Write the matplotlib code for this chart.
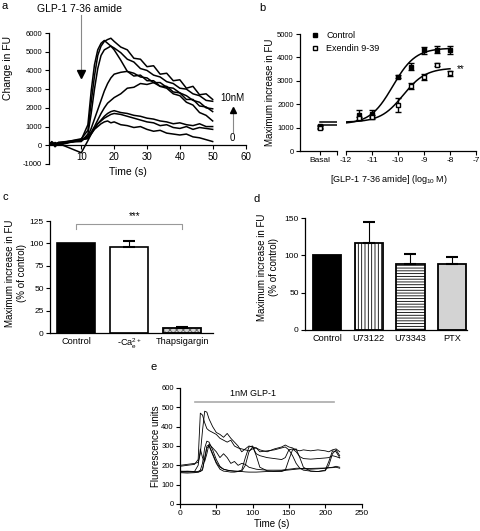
import numpy as np
import matplotlib.pyplot as plt
from matplotlib.lines import Line2D

plt.rcParams['font.family'] = ['Liberation Sans', 'DejaVu Sans']
plt.rcParams['mathtext.fontset'] = 'custom'
plt.rcParams['mathtext.rm'] = 'Liberation Sans'
plt.rcParams['mathtext.it'] = 'Liberation Sans:italic'
plt.rcParams['hatch.linewidth'] = 0.6

W, H = 480, 531

# ---- panel a: calcium traces (change in FU) ----
a_time = [0, 1, 2, 3, 10, 12, 13, 14, 15, 16, 17, 18, 19, 20, 22, 24, 26, 28,
          30, 32, 34, 36, 38, 40, 42, 44, 46, 48, 50]
a_traces = [
    [80, 150, -80, 100, 350, 800, 2300, 3700, 4800, 5300, 5550, 5650, 5720, 5550, 5250, 5100, 4650, 4600,
     4200, 4250, 3800, 3850, 3450, 3500, 3050, 3150, 2700, 2750, 2450],
    [150, 50, 100, 0, 300, 1100, 2900, 4300, 5100, 5450, 5600, 5450, 5300, 5200, 4950, 4600, 4450, 4100,
     4000, 3750, 3650, 3400, 3300, 3050, 3000, 2750, 2650, 2400, 2350],
    [0, 200, 50, 150, 200, 600, 1700, 3000, 4100, 4800, 5100, 5200, 5300, 5100, 4550, 3950, 3850, 3650,
     3600, 3350, 3350, 3100, 3050, 2800, 2650, 2400, 2300, 2000, 1950],
    [100, 0, 150, 50, 300, 500, 900, 1400, 1900, 2400, 2900, 3300, 3600, 3800, 3900, 3950, 3700, 3750,
     3450, 3450, 3150, 3150, 2850, 2800, 2450, 2450, 2100, 2050, 1800],
    [50, 100, 0, 100, 250, 450, 700, 1000, 1350, 1700, 2000, 2250, 2400, 2550, 2750, 3050, 3100, 3300,
     3250, 3350, 3150, 3050, 2750, 2650, 2300, 2150, 1750, 1600, 1300],
    [100, 150, 0, 50, 300, 400, 650, 900, 1150, 1350, 1550, 1700, 1800, 1850, 1750, 1700, 1600, 1550,
     1450, 1400, 1300, 1250, 1150, 1200, 1100, 1050, 1150, 1000, 1000],
    [150, 0, 50, 100, -400, 250, 600, 900, 1150, 1300, 1450, 1550, 1650, 1700, 1650, 1550, 1450, 1350,
     1250, 1200, 1050, 1100, 950, 900, 1000, 850, 950, 900, 850],
    [0, 100, 50, 150, 300, 350, 600, 850, 1000, 1150, 1250, 1300, 1200, 1250, 1100, 1050, 950, 1000,
     850, 750, 800, 650, 600, 550, 600, 450, 400, 300, 200],
]

# ---- panel b: concentration response ----
b_conc = [-11.5, -11, -10, -9.5, -9, -8.5, -8]
b_ctrl = [1530, 1600, 3180, 3610, 4300, 4330, 4300]
b_ctrl_err = [215, 150, 70, 130, 150, 150, 170]
b_exen = [1390, 1460, 1960, 2780, 3150, 3680, 3320]
b_exen_err = [80, 80, 300, 130, 120, 60, 120]
b_basal = [1060, 1000]
b_basal_err = [60, 60]
b_basal_lines = [1230, 1110]
b_fit_ctrl = (1150, 4400, -10.2, 1.0)   # bottom, top, logEC50, hill
b_fit_exen = (1230, 3550, -9.8, 1.0)

# ---- panel c ----
c_labels = ['Control', '-Ca$^{2+}_{\\mathrm{e}}$', 'Thapsigargin']
c_values = [100, 96, 6]
c_err = [0, 6.3, 1]

# ---- panel d ----
d_labels = ['Control', 'U73122', 'U73343', 'PTX']
d_values = [101, 117, 88, 88]
d_err = [0, 27, 13.5, 9.5]

# ---- panel e: single cell traces ----
e_time = [0, 10, 20, 25, 28, 31, 34, 37, 40, 45, 50, 55, 60, 65, 70, 75, 80, 85, 90, 95,
          100, 105, 110, 120, 130, 140, 145, 150, 155, 160, 165, 170, 180, 190, 200, 205, 210, 215, 220]
e_traces = [
    [195, 200, 205, 230, 470, 460, 420, 390, 380, 370, 360, 340, 330, 320, 330, 300, 290, 285, 280, 275,
     285, 290, 280, 270, 285, 295, 305, 295, 290, 280, 275, 280, 275, 280, 275, 270, 280, 285, 270],
    [200, 205, 210, 215, 260, 380, 480, 475, 440, 400, 370, 360, 345, 365, 340, 320, 300, 270, 285, 300,
     295, 260, 250, 240, 235, 230, 240, 280, 285, 270, 245, 235, 232, 235, 238, 240, 250, 245, 238],
    [170, 168, 165, 168, 175, 210, 290, 325, 320, 280, 230, 195, 180, 175, 172, 170, 170, 175, 240, 295,
     300, 250, 190, 172, 168, 168, 175, 230, 280, 285, 240, 190, 170, 168, 175, 220, 275, 270, 240],
    [165, 165, 168, 200, 285, 240, 220, 260, 310, 290, 270, 240, 260, 240, 210, 220, 200, 210, 205, 190,
     185, 180, 178, 175, 175, 175, 178, 180, 182, 185, 185, 182, 180, 182, 185, 188, 190, 195, 190],
    [168, 170, 168, 165, 170, 180, 230, 290, 300, 255, 210, 180, 170, 168, 165, 165, 168, 170, 200, 270,
     295, 290, 270, 275, 280, 290, 295, 280, 250, 210, 185, 175, 170, 168, 172, 200, 260, 280, 250],
    [162, 160, 162, 165, 168, 175, 240, 300, 305, 260, 215, 190, 180, 175, 172, 170, 168, 168, 166, 165,
     165, 165, 166, 168, 170, 172, 174, 176, 178, 180, 182, 183, 184, 185, 186, 187, 188, 190, 185],
]
e_stim = [20, 212]


fig = plt.figure(figsize=(W / 100, H / 100), dpi=100)


def add_ax(l, t, r, b):
    return fig.add_axes([l / W, 1 - b / H, (r - l) / W, (b - t) / H])


def ftext(px, py, s, **kw):
    fig.text(px / W, 1 - py / H, s, **kw)


def style(ax, xsize=6, ysize=5.5):
    for s in ['top', 'right']:
        ax.spines[s].set_visible(False)
    for s in ax.spines.values():
        s.set_linewidth(0.9)
    ax.tick_params(direction='out', length=3, width=0.8, pad=1.5)
    ax.tick_params(axis='x', labelsize=xsize)
    ax.tick_params(axis='y', labelsize=ysize)


# ================= a =================
ax = add_ax(48.5, 33, 245.5, 164)
for tr in a_traces:
    ax.plot(a_time, tr, color='k', lw=1.1)
ax.set_xlim(0, 60)
ax.set_ylim(-1000, 6000)
style(ax, xsize=7, ysize=5.5)
ax.spines['bottom'].set_position(('data', 0))
ax.set_xticks(range(10, 61, 10))
ax.set_yticks(range(-1000, 6001, 1000))
ax.set_yticklabels([str(v) for v in range(-1000, 6001, 1000)])
ax.text(9.4, 7270, 'GLP-1 7-36 amide', ha='center', va='center', fontsize=7.5, clip_on=False)
ax.plot([10, 10], [6950, 3900], color='#888888', lw=0.8, clip_on=False)
ax.plot([10], [3800], marker='v', color='k', ms=5.5, clip_on=False)
ax.text(56.1, 2510, '10nM', ha='center', va='center', fontsize=7, clip_on=False)
ax.plot([56.1, 56.1], [700, 1800], color='#888888', lw=0.8, clip_on=False)
ax.plot([56.1], [1900], marker='^', color='k', ms=5, clip_on=False)
ax.text(56.1, 375, '0', ha='center', va='center', fontsize=7, clip_on=False)
ftext(8, 68, 'Change in FU', rotation=90, ha='center', va='center', fontsize=7.5)
ftext(128, 172, 'Time (s)', ha='center', va='center', fontsize=7.5)
ftext(5, 6, 'a', ha='center', va='center', fontsize=8)

# ================= b =================
axb0 = add_ax(300, 34, 337, 151)
axb1 = add_ax(346, 34, 476, 151)
for i, (v, e) in enumerate(zip(b_basal, b_basal_err)):
    axb0.errorbar([0], [v], yerr=[e], fmt='s', ms=3.5, mfc='k' if i == 0 else 'w', mec='k',
                  ecolor='k', elinewidth=1, capsize=2, capthick=1)
for v in b_basal_lines:
    axb0.plot([0, 0.85], [v, v], color='k', lw=1.1)
axb0.set_xlim(-1, 0.85)
axb0.set_ylim(0, 5000)
style(axb0, xsize=6, ysize=5.5)
axb0.set_xticks([0, 0.85])
axb0.set_xticklabels(['Basal', ''])
axb0.set_yticks(range(0, 5001, 1000))

xs = np.linspace(-12, -8, 200)
for (bot, top, ec50, hill) in [b_fit_ctrl, b_fit_exen]:
    axb1.plot(xs, bot + (top - bot) / (1 + 10 ** ((ec50 - xs) * hill)), color='k', lw=1.1)
axb1.errorbar(b_conc, b_ctrl, yerr=b_ctrl_err, fmt='s', ms=3.5, mfc='k', mec='k',
              ecolor='k', elinewidth=1, capsize=2, capthick=1)
axb1.errorbar(b_conc, b_exen, yerr=b_exen_err, fmt='s', ms=3.5, mfc='w', mec='k',
              ecolor='k', elinewidth=1, capsize=2, capthick=1)
axb1.text(-7.75, 3480, '**', ha='left', va='center', fontsize=7)
axb1.set_xlim(-12, -7)
axb1.set_ylim(0, 5000)
style(axb1, xsize=6)
axb1.spines['left'].set_visible(False)
axb1.set_yticks([])
axb1.set_xticks(range(-12, -6))
axb1.set_xticklabels([str(v) for v in range(-12, -6)])
handles = [Line2D([], [], ls='none', marker='s', ms=3.5, mfc='k', mec='k'),
           Line2D([], [], ls='none', marker='s', ms=3.5, mfc='w', mec='k')]
fig.legend(handles, ['Control', 'Exendin 9-39'], loc='upper left', bbox_to_anchor=(311 / W, 1 - 31 / H),
           frameon=False, fontsize=6.5, handlelength=0.8, handletextpad=0.9, labelspacing=0.45,
           borderaxespad=0, borderpad=0)
ftext(270, 92, 'Maximum increase in FU', rotation=90, ha='center', va='center', fontsize=7)
ftext(389, 180, '[GLP-1 7-36 amide] (log$_{10}$ M)', ha='center', va='center', fontsize=6.5)
ftext(262, 8, 'b', ha='center', va='center', fontsize=8)

# ================= c =================
axc = add_ax(50, 221, 213, 333)
xc = np.arange(len(c_values))
axc.bar(xc[:2], c_values[:2], width=0.72, color=['k', 'w'], edgecolor='k', lw=1.2)
axc.bar(xc[2:], c_values[2:], width=0.72, color='#d0d0d0', edgecolor='#666666', hatch='xxxxx', lw=0)
axc.bar(xc[2:], c_values[2:], width=0.72, color='none', edgecolor='k', lw=1.3)
ce = [i for i in xc if c_err[i] > 0]
axc.errorbar(ce, [c_values[i] for i in ce], yerr=[[0] * len(ce), [c_err[i] for i in ce]],
             fmt='none', ecolor='k', elinewidth=0.8, capsize=4.5, capthick=1.5)
axc.plot([0, 0, 2, 2], [116, 122, 122, 116], color='#999999', lw=0.8, clip_on=False)
axc.text(1.1, 131, '***', ha='center', va='center', fontsize=7, clip_on=False)
axc.set_xlim(-0.49, 2.58)
axc.set_ylim(0, 125)
style(axc, xsize=6.6, ysize=6)
axc.set_yticks(range(0, 126, 25))
axc.set_xticks(xc)
axc.set_xticklabels(c_labels)
axc.tick_params(axis='x', length=0, pad=3)
ftext(16, 273, 'Maximum increase in FU\n(% of control)', rotation=90, ha='center', va='center',
      fontsize=7, multialignment='center', linespacing=1.25)
ftext(5, 197, 'c', ha='center', va='center', fontsize=8)

# ================= d =================
axd = add_ax(305, 218, 467, 330)
xd = np.arange(len(d_values))
d_colors = ['k', 'w', 'w', '#d3d3d3']
d_hatch = [None, '|||||', '------', None]
for i in xd:
    axd.bar(xd[i], d_values[i], width=0.68, color=d_colors[i], edgecolor='k', hatch=d_hatch[i], lw=1.3)
de = [i for i in xd if d_err[i] > 0]
axd.errorbar(de, [d_values[i] for i in de], yerr=[[0] * len(de), [d_err[i] for i in de]],
             fmt='none', ecolor='k', elinewidth=0.8, capsize=4.5, capthick=1.5)
axd.set_xlim(-0.53, 3.36)
axd.set_ylim(0, 150)
style(axd, xsize=6.6, ysize=6)
axd.set_yticks(range(0, 151, 50))
axd.set_xticks(xd)
axd.set_xticklabels(d_labels)
axd.tick_params(axis='x', length=0, pad=3)
ftext(268, 267, 'Maximum increase in FU\n(% of control)', rotation=90, ha='center', va='center',
      fontsize=7, multialignment='center', linespacing=1.25)
ftext(257, 199, 'd', ha='center', va='center', fontsize=8)

# ================= e =================
axe = add_ax(180, 388, 361.5, 504)
for tr in e_traces:
    axe.plot(e_time, tr, color='k', lw=0.6)
axe.plot(e_stim, [530, 530], color='#aaaaaa', lw=1.2)
axe.text(100, 572, '1nM GLP-1', ha='center', va='center', fontsize=6.5)
axe.set_xlim(0, 250)
axe.set_ylim(0, 600)
style(axe, xsize=6, ysize=5.5)
axe.set_xticks(range(0, 251, 50))
axe.set_yticks(range(0, 601, 100))
ftext(156, 446, 'Fluorescence units', rotation=90, ha='center', va='center', fontsize=7)
ftext(272, 524, 'Time (s)', ha='center', va='center', fontsize=7)
ftext(154, 367, 'e', ha='center', va='center', fontsize=8)

fig.savefig('out.png', dpi=100)
